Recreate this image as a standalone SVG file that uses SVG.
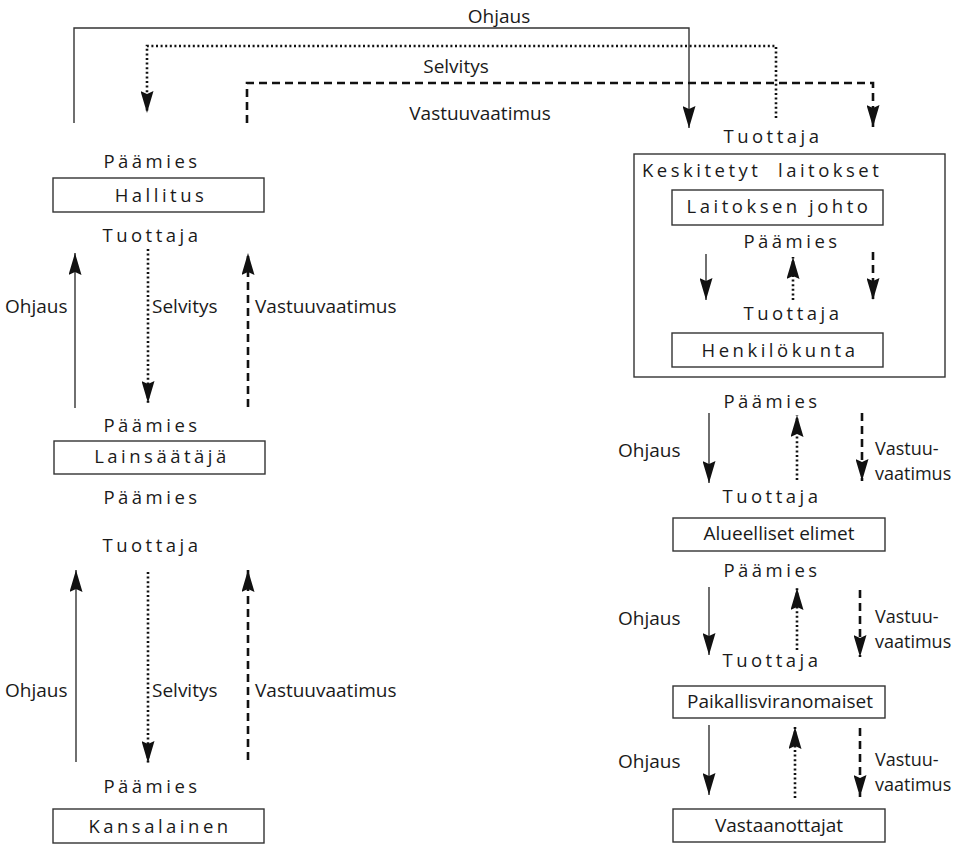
<svg xmlns="http://www.w3.org/2000/svg" width="958" height="844" viewBox="0 0 958 844">
<style>
text{font-family:"Open Sans","Liberation Sans",sans-serif;font-size:19px;fill:#1a1a1a}
.sp{font-size:18.5px;letter-spacing:3.5px;text-anchor:middle}
.c{text-anchor:middle}
.v{font-size:18px}
.box{fill:none;stroke:#333;stroke-width:1.4}
.solid{fill:none;stroke:#333;stroke-width:1.4}
.dot{fill:none;stroke:#111;stroke-width:2.6;stroke-dasharray:2 2.6}
.dash{fill:none;stroke:#111;stroke-width:2.6;stroke-dasharray:8 5}
</style>
<defs>
<marker id="ah" viewBox="0 0 22 13" refX="22" refY="6.5" markerWidth="22" markerHeight="13" markerUnits="userSpaceOnUse" orient="auto">
<path d="M0,0 L22,6.5 L0,13 L3,6.5 z" fill="#111"/>
</marker>
</defs>
<rect width="958" height="844" fill="#fff"/>

<g id="hallitus">
<text x="152" y="168" class="sp">Päämies</text>
<rect class="box" x="53" y="178" width="211" height="34"/>
<text x="161" y="202" class="sp">Hallitus</text>
<text x="152" y="242" class="sp">Tuottaja</text>
</g>

<g id="lainsaataja">
<text x="152" y="432" class="sp">Päämies</text>
<rect class="box" x="54" y="441" width="211" height="33"/>
<text x="162" y="463" class="sp">Lainsäätäjä</text>
<text x="152" y="504" class="sp">Päämies</text>
<text x="152" y="552" class="sp">Tuottaja</text>
</g>

<g id="kansalainen">
<text x="152" y="793" class="sp">Päämies</text>
<rect class="box" x="53" y="809" width="211" height="34"/>
<text x="160" y="833" class="sp">Kansalainen</text>
</g>

<g id="keskitetyt">
<text x="773" y="143" class="sp">Tuottaja</text>
<rect class="box" x="634" y="154" width="311" height="223"/>
<text x="642" y="177" style="font-size:18.5px;letter-spacing:3.5px;white-space:pre">Keskitetyt  laitokset</text>
</g>

<g id="laitoksen-johto">
<rect class="box" x="672" y="190" width="211" height="35"/>
<text x="779" y="213" class="sp">Laitoksen johto</text>
<text x="792" y="248" class="sp">Päämies</text>
</g>

<g id="henkilokunta">
<text x="793" y="320" class="sp">Tuottaja</text>
<rect class="box" x="672" y="333" width="211" height="34"/>
<text x="780" y="357" class="sp">Henkilökunta</text>
<text x="772" y="408" class="sp">Päämies</text>
</g>

<g id="alueelliset">
<text x="772" y="503" class="sp">Tuottaja</text>
<rect class="box" x="673" y="518" width="212" height="33"/>
<text x="779" y="540" class="c">Alueelliset elimet</text>
<text x="772" y="577" class="sp">Päämies</text>
</g>

<g id="paikallis">
<text x="772" y="667" class="sp">Tuottaja</text>
<rect class="box" x="673" y="686" width="212" height="32"/>
<text x="780" y="708" class="c">Paikallisviranomaiset</text>
</g>

<g id="vastaanottajat">
<rect class="box" x="673" y="809" width="212" height="33"/>
<text x="779" y="832" class="c">Vastaanottajat</text>
</g>

<g id="connectors">
<path class="solid" d="M74,123 V28 H689 V128" marker-end="url(#ah)"/>
<path class="dot" d="M776,118 V46 H147 V113" marker-end="url(#ah)"/>
<path class="dash" d="M247,123 V83 H873 V127" marker-end="url(#ah)"/>
<text x="499" y="23" class="c">Ohjaus</text>
<text x="456" y="73" class="c">Selvitys</text>
<text x="480" y="120" class="c">Vastuuvaatimus</text>

<path class="solid" d="M75,408 V253" marker-end="url(#ah)"/>
<path class="dot" d="M148,249 V403" marker-end="url(#ah)"/>
<path class="dash" d="M248,407 V253" marker-end="url(#ah)"/>
<text x="5" y="313">Ohjaus</text>
<text x="152" y="313">Selvitys</text>
<text x="255" y="313">Vastuuvaatimus</text>

<path class="solid" d="M76,762 V570" marker-end="url(#ah)"/>
<path class="dot" d="M148,572 V763" marker-end="url(#ah)"/>
<path class="dash" d="M248,760 V570" marker-end="url(#ah)"/>
<text x="5" y="697">Ohjaus</text>
<text x="152" y="697">Selvitys</text>
<text x="255" y="697">Vastuuvaatimus</text>

<path class="solid" d="M706,254 V300" marker-end="url(#ah)"/>
<path class="dot" d="M793,300 V257" marker-end="url(#ah)"/>
<path class="dash" d="M873,252 V300" marker-end="url(#ah)"/>

<path class="solid" d="M709,413 V483" marker-end="url(#ah)"/>
<path class="dot" d="M797,480 V415" marker-end="url(#ah)"/>
<path class="dash" d="M862,413 V481" marker-end="url(#ah)"/>
<text x="618" y="457">Ohjaus</text>
<text x="875" y="455" class="v">Vastuu-</text>
<text x="875" y="480" class="v">vaatimus</text>

<path class="solid" d="M709,587 V655" marker-end="url(#ah)"/>
<path class="dot" d="M797,650 V588" marker-end="url(#ah)"/>
<path class="dash" d="M860,590 V657" marker-end="url(#ah)"/>
<text x="618" y="625">Ohjaus</text>
<text x="875" y="623" class="v">Vastuu-</text>
<text x="875" y="648" class="v">vaatimus</text>

<path class="solid" d="M709,725 V795" marker-end="url(#ah)"/>
<path class="dot" d="M795,798 V727" marker-end="url(#ah)"/>
<path class="dash" d="M860,728 V797" marker-end="url(#ah)"/>
<text x="618" y="768">Ohjaus</text>
<text x="875" y="766" class="v">Vastuu-</text>
<text x="875" y="791" class="v">vaatimus</text>
</g>
</svg>
